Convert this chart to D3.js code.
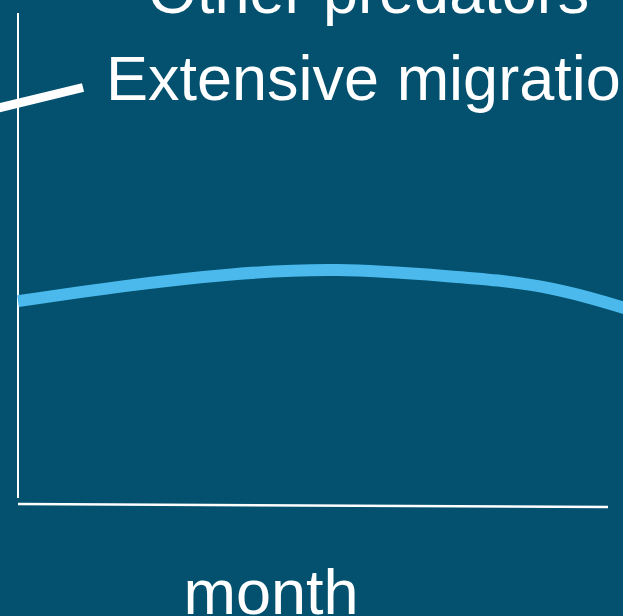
<!DOCTYPE html>
<html>
<head>
<meta charset="utf-8">
<script src="https://cdn.jsdelivr.net/npm/d3@7"></script>
<style>
  html, body { margin: 0; padding: 0; background: #03516f; overflow: hidden; }
  svg { display: block; }
  text { font-family: "Liberation Sans", Arial, sans-serif; fill: #ffffff; }
</style>
</head>
<body>
<svg id="chart" width="623" height="616"></svg>
<script>
// Monthly values of the light-blue series (month index 0..12)
const months = [0, 2, 4, 6, 8, 10, 12];
const abundance = [41.0, 44.1, 46.5, 47.4, 46.2, 43.6, 37.4];
const legendLabels = ["Other predators", "Extensive migration"];
const axisTitle = "month";

const W = 623, H = 616;
const svg = d3.select("#chart");

svg.append("rect").attr("width", W).attr("height", H).attr("fill", "#03516f");

const x = d3.scaleLinear().domain([0, 12]).range([18, 658]);
const y = d3.scaleLinear().domain([0, 100]).range([500, 15]);

// Axes
svg.append("line")
  .attr("x1", x(0)).attr("x2", x(0))
  .attr("y1", 13).attr("y2", 498)
  .attr("stroke", "#ffffff").attr("stroke-width", 2);

svg.append("line")
  .attr("x1", x(0)).attr("x2", 608)
  .attr("y1", 504).attr("y2", 507)
  .attr("stroke", "#ffffff").attr("stroke-width", 2.5);

// Series curve
const line = d3.line()
  .x((d, i) => x(months[i]))
  .y(d => y(d))
  .curve(d3.curveNatural);

svg.append("path")
  .datum(abundance)
  .attr("d", line)
  .attr("fill", "none")
  .attr("stroke", "#4bb9ec")
  .attr("stroke-width", 12);

// Legend
svg.append("text")
  .attr("x", 148).attr("y", 13)
  .attr("font-size", 63)
  .text(legendLabels[0]);

svg.append("line")
  .attr("x1", -10).attr("y1", 110)
  .attr("x2", 83).attr("y2", 87.5)
  .attr("stroke", "#ffffff").attr("stroke-width", 9);

svg.append("text")
  .attr("x", 106).attr("y", 100)
  .attr("font-size", 63)
  .text(legendLabels[1]);

// Axis title
svg.append("text")
  .attr("x", 271).attr("y", 614)
  .attr("text-anchor", "middle")
  .attr("font-size", 63)
  .text(axisTitle);
</script>
</body>
</html>
